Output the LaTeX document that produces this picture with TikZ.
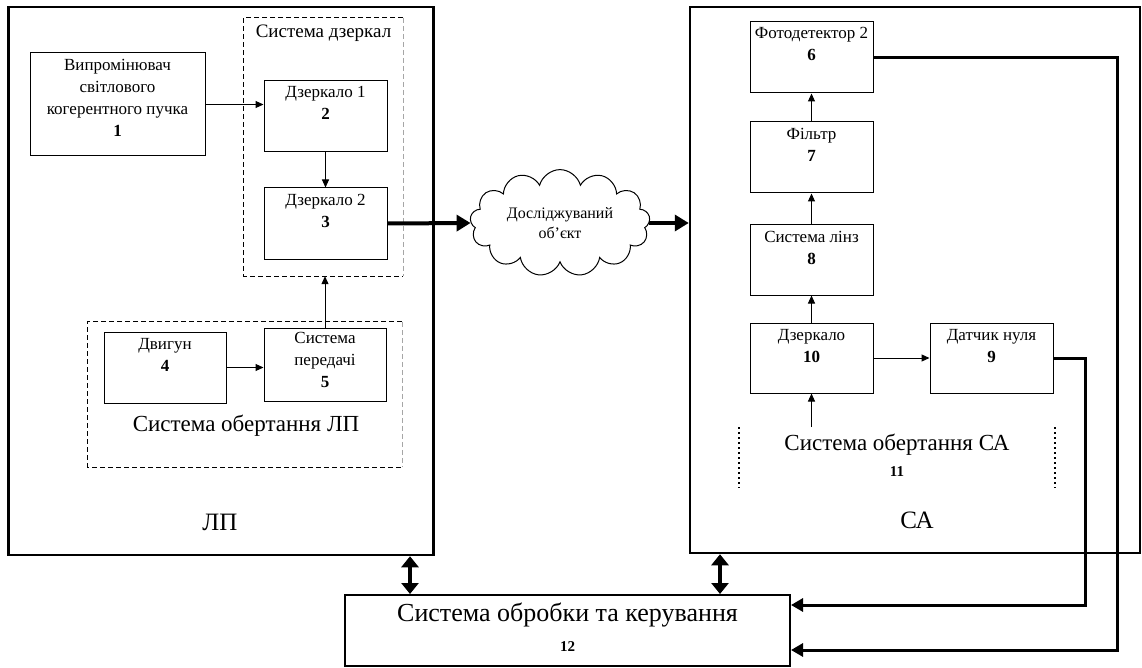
\documentclass[tikz,border=0pt]{standalone}
\usepackage{fontspec}
\setmainfont{Liberation Serif}
\usetikzlibrary{shapes.symbols,arrows.meta}

\begin{document}
\begin{tikzpicture}[x=1pt,y=-1pt,
  blk/.style={draw, line width=1pt, minimum width=123pt, minimum height=71pt},
  txt/.style={anchor=north, align=center, font=\fontsize{17}{22}\selectfont},
  grp/.style={line width=1.3pt, dash pattern=on 5pt off 3pt},
  big/.style={draw, line width=2.5pt},
  arr/.style={line width=1pt, -{Triangle[length=8pt,width=7pt]}},
  fat/.style={line width=4pt, -{Triangle[length=14pt,width=16pt]}},
  fb/.style={line width=3pt, -{Triangle[length=12pt,width=13pt]}},
  dbl/.style={line width=3.5pt, {Triangle[length=11pt,width=17pt]}-{Triangle[length=11pt,width=17pt]}}]
\useasboundingbox (0,0) rectangle (1142,668);

\node[big, minimum width=425pt, minimum height=548pt] (lp) at (221,281) {};
\node[big, minimum width=450pt, minimum height=546pt] (ca) at (915,280) {};
\node[font=\fontsize{25}{30}\selectfont] (lpname) at (220,522) {ЛП};
\node[font=\fontsize{25}{30}\selectfont] (caname) at (917,520) {СА};

\node[minimum width=159pt, minimum height=258pt] (mir) at (323.5,147) {};
\draw[grp] (mir.north east) -| (mir.south west) -- (mir.south east);
\draw[grp, black!35] (mir.north east) -- (mir.south east);
\node[txt, font=\fontsize{19}{22}\selectfont] (tmir) at ([yshift=-4pt]mir.north) {Система дзеркал};

\node[minimum width=314pt, minimum height=145pt] (rotlp) at (245,394.5) {};
\draw[grp] (rotlp.north east) -| (rotlp.south west) -- (rotlp.south east);
\draw[grp, black!35] (rotlp.north east) -- (rotlp.south east);
\node[font=\fontsize{23}{27}\selectfont] (trotlp) at (246,426) {Система обертання ЛП};

\node[blk, minimum width=175pt, minimum height=103pt] (1) at (117.5,104.5) {};
\node[txt] (t1) at ([yshift=-3pt]1.north) {Випромінювач\\світлового\\когерентного пучка\\\textbf{1}};
\node[blk] (2) at (325.5,116) {};
\node[txt] (t2) at ([yshift=-3pt]2.north) {Дзеркало 1\\\textbf{2}};
\node[blk] (3) at (325.5,223.5) {};
\node[txt] (t3) at ([yshift=-3pt]3.north) {Дзеркало 2\\\textbf{3}};
\node[blk, minimum width=122pt] (4) at (165,367.5) {};
\node[txt] (t4) at ([yshift=-3pt]4.north) {Двигун\\\textbf{4}};
\node[blk, minimum width=122pt, minimum height=73pt] (5) at (325,364.5) {};
\node[txt] (t5) at ([yshift=-1pt]5.north) {Система\\передачі\\\textbf{5}};

\node[blk] (6) at (811.5,57.5) {};
\node[txt] (t6) at ([yshift=-2pt]6.north) {Фотодетектор 2\\\textbf{6}};
\node[blk] (7) at (811.5,157.5) {};
\node[txt] (t7) at ([yshift=-3pt]7.north) {Фільтр\\\textbf{7}};
\node[blk, minimum height=70pt] (8) at (811.5,260) {};
\node[txt] (t8) at ([yshift=-3pt]8.north) {Система лінз\\\textbf{8}};
\node[blk, minimum height=70pt] (10) at (811.5,358) {};
\node[txt] (t10) at ([yshift=-3pt]10.north) {Дзеркало\\\textbf{10}};
\node[blk, minimum height=70pt] (9) at (991.5,358) {};
\node[txt] (t9) at ([yshift=-3pt]9.north) {Датчик нуля\\\textbf{9}};

\node[align=center, font=\fontsize{23}{26}\selectfont] (11) at (897,455) {Система обертання СА\\{\fontsize{15}{15}\selectfont\textbf{11}}};
\draw[line width=1.2pt, dash pattern=on 2pt off 3pt] (739,427) -- (739,488);
\draw[line width=1.2pt, dash pattern=on 2pt off 3pt] (1055,427) -- (1055,488);
\coordinate (r11) at (811.5,427);

\node[cloud, draw, line width=1pt, cloud puffs=13, aspect=2, minimum width=180pt, minimum height=90pt, align=center, font=\fontsize{16}{20}\selectfont] (obj) at (560,223) {Досліджуваний\\об’єкт};

\node[draw, line width=2pt, minimum width=445pt, minimum height=71pt] (12) at (567.5,630.5) {};
\node[align=center, font=\fontsize{26}{30}\selectfont] (t12) at (567.5,627) {Система обробки та керування\\{\fontsize{15}{15}\selectfont\textbf{12}}};

\draw[arr] (1.east) -- (1.east -| 2.west);
\draw[arr] (2) -- (3);
\draw[arr] (4.east) -- (4.east -| 5.west);
\draw[arr] (5.north) -- (5.north |- mir.south);
\draw[fat] (3.east) -- (obj.west);
\draw[fat] (obj.east) -- (obj.east -| ca.west);

\draw[arr] (10) -- (8);
\draw[arr] (8) -- (7);
\draw[arr] (7) -- (6);
\draw[arr] (10) -- (9);
\draw[arr] (r11) -- (10.south);

\coordinate (c6) at (1117,650);
\coordinate (c9) at (1085,605);
\draw[fb] (6.east) -| (c6) -- (c6 -| 12.east);
\draw[fb] (9.east) -| (c9) -- (c9 -| 12.east);

\coordinate (d1) at (410,0);
\coordinate (d2) at (720,0);
\draw[dbl] (lp.south -| d1) -- (12.north -| d1);
\draw[dbl] (ca.south -| d2) -- (12.north -| d2);
\end{tikzpicture}
\end{document}
